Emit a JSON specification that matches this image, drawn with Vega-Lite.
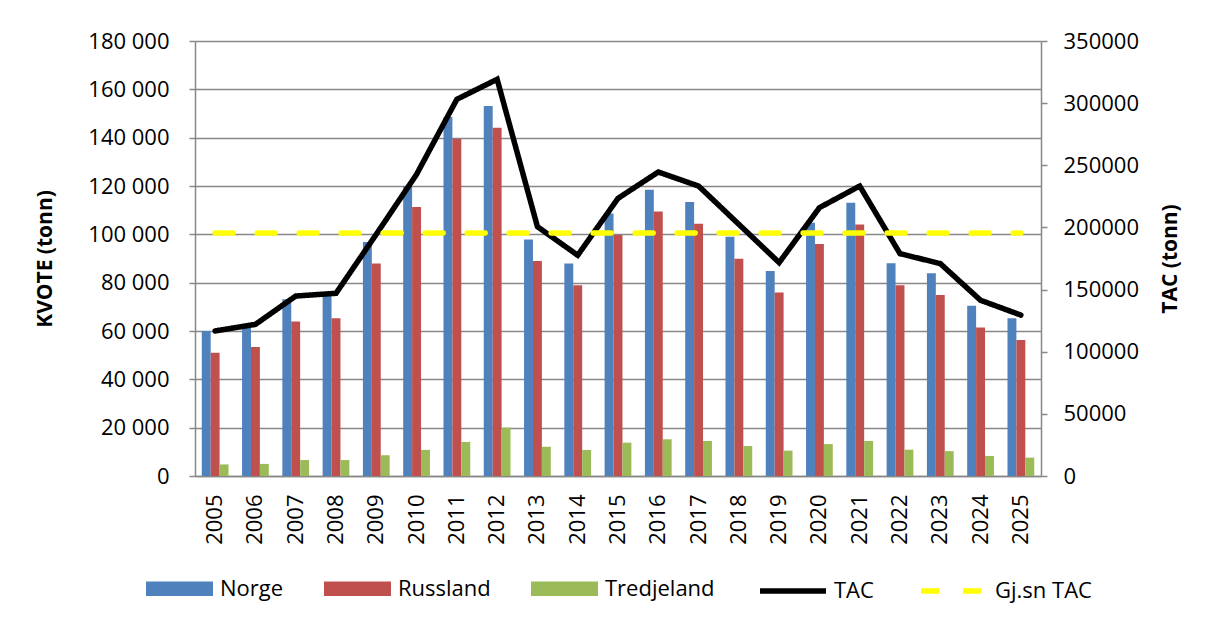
{
  "$schema": "https://vega.github.io/schema/vega-lite/v6.json",
  "width": 846,
  "height": 435,
  "autosize": {"type": "none"},
  "padding": {"left": 195, "top": 41, "right": 168, "bottom": 147},
  "background": "white",
  "datasets": {
    "kvote": [
      {"year": "2005", "land": "Norge", "tonn": 60000}, {"year": "2005", "land": "Russland", "tonn": 51000}, {"year": "2005", "land": "Tredjeland", "tonn": 4800},
      {"year": "2006", "land": "Norge", "tonn": 61400}, {"year": "2006", "land": "Russland", "tonn": 53400}, {"year": "2006", "land": "Tredjeland", "tonn": 5000},
      {"year": "2007", "land": "Norge", "tonn": 73100}, {"year": "2007", "land": "Russland", "tonn": 63900}, {"year": "2007", "land": "Tredjeland", "tonn": 6600},
      {"year": "2008", "land": "Norge", "tonn": 74500}, {"year": "2008", "land": "Russland", "tonn": 65300}, {"year": "2008", "land": "Tredjeland", "tonn": 6600},
      {"year": "2009", "land": "Norge", "tonn": 96800}, {"year": "2009", "land": "Russland", "tonn": 87900}, {"year": "2009", "land": "Tredjeland", "tonn": 8600},
      {"year": "2010", "land": "Norge", "tonn": 120000}, {"year": "2010", "land": "Russland", "tonn": 111300}, {"year": "2010", "land": "Tredjeland", "tonn": 10800},
      {"year": "2011", "land": "Norge", "tonn": 148600}, {"year": "2011", "land": "Russland", "tonn": 139600}, {"year": "2011", "land": "Tredjeland", "tonn": 14100},
      {"year": "2012", "land": "Norge", "tonn": 153100}, {"year": "2012", "land": "Russland", "tonn": 144100}, {"year": "2012", "land": "Tredjeland", "tonn": 20000},
      {"year": "2013", "land": "Norge", "tonn": 97900}, {"year": "2013", "land": "Russland", "tonn": 89000}, {"year": "2013", "land": "Tredjeland", "tonn": 12100},
      {"year": "2014", "land": "Norge", "tonn": 87900}, {"year": "2014", "land": "Russland", "tonn": 78900}, {"year": "2014", "land": "Tredjeland", "tonn": 10800},
      {"year": "2015", "land": "Norge", "tonn": 108600}, {"year": "2015", "land": "Russland", "tonn": 99700}, {"year": "2015", "land": "Tredjeland", "tonn": 13800},
      {"year": "2016", "land": "Norge", "tonn": 118400}, {"year": "2016", "land": "Russland", "tonn": 109400}, {"year": "2016", "land": "Tredjeland", "tonn": 15200},
      {"year": "2017", "land": "Norge", "tonn": 113400}, {"year": "2017", "land": "Russland", "tonn": 104400}, {"year": "2017", "land": "Tredjeland", "tonn": 14500},
      {"year": "2018", "land": "Norge", "tonn": 99000}, {"year": "2018", "land": "Russland", "tonn": 89900}, {"year": "2018", "land": "Tredjeland", "tonn": 12400},
      {"year": "2019", "land": "Norge", "tonn": 84800}, {"year": "2019", "land": "Russland", "tonn": 75900}, {"year": "2019", "land": "Tredjeland", "tonn": 10500},
      {"year": "2020", "land": "Norge", "tonn": 104800}, {"year": "2020", "land": "Russland", "tonn": 96000}, {"year": "2020", "land": "Tredjeland", "tonn": 13200},
      {"year": "2021", "land": "Norge", "tonn": 113100}, {"year": "2021", "land": "Russland", "tonn": 104100}, {"year": "2021", "land": "Tredjeland", "tonn": 14500},
      {"year": "2022", "land": "Norge", "tonn": 88000}, {"year": "2022", "land": "Russland", "tonn": 78900}, {"year": "2022", "land": "Tredjeland", "tonn": 10900},
      {"year": "2023", "land": "Norge", "tonn": 83900}, {"year": "2023", "land": "Russland", "tonn": 74900}, {"year": "2023", "land": "Tredjeland", "tonn": 10300},
      {"year": "2024", "land": "Norge", "tonn": 70400}, {"year": "2024", "land": "Russland", "tonn": 61400}, {"year": "2024", "land": "Tredjeland", "tonn": 8300},
      {"year": "2025", "land": "Norge", "tonn": 65300}, {"year": "2025", "land": "Russland", "tonn": 56300}, {"year": "2025", "land": "Tredjeland", "tonn": 7600}
    ],
    "tac": [
      {"year": "2005", "series": "TAC", "tonn": 116700},
      {"year": "2006", "series": "TAC", "tonn": 122000},
      {"year": "2007", "series": "TAC", "tonn": 144800},
      {"year": "2008", "series": "TAC", "tonn": 147000},
      {"year": "2009", "series": "TAC", "tonn": 194500},
      {"year": "2010", "series": "TAC", "tonn": 242700},
      {"year": "2011", "series": "TAC", "tonn": 303100},
      {"year": "2012", "series": "TAC", "tonn": 319200},
      {"year": "2013", "series": "TAC", "tonn": 200600},
      {"year": "2014", "series": "TAC", "tonn": 177600},
      {"year": "2015", "series": "TAC", "tonn": 223400},
      {"year": "2016", "series": "TAC", "tonn": 244600},
      {"year": "2017", "series": "TAC", "tonn": 233300},
      {"year": "2018", "series": "TAC", "tonn": 202500},
      {"year": "2019", "series": "TAC", "tonn": 171700},
      {"year": "2020", "series": "TAC", "tonn": 215900},
      {"year": "2021", "series": "TAC", "tonn": 233300},
      {"year": "2022", "series": "TAC", "tonn": 178900},
      {"year": "2023", "series": "TAC", "tonn": 170900},
      {"year": "2024", "series": "TAC", "tonn": 141400},
      {"year": "2025", "series": "TAC", "tonn": 129500},
      {"year": "2005", "series": "Gj.sn TAC", "tonn": 195600},
      {"year": "2006", "series": "Gj.sn TAC", "tonn": 195600},
      {"year": "2007", "series": "Gj.sn TAC", "tonn": 195600},
      {"year": "2008", "series": "Gj.sn TAC", "tonn": 195600},
      {"year": "2009", "series": "Gj.sn TAC", "tonn": 195600},
      {"year": "2010", "series": "Gj.sn TAC", "tonn": 195600},
      {"year": "2011", "series": "Gj.sn TAC", "tonn": 195600},
      {"year": "2012", "series": "Gj.sn TAC", "tonn": 195600},
      {"year": "2013", "series": "Gj.sn TAC", "tonn": 195600},
      {"year": "2014", "series": "Gj.sn TAC", "tonn": 195600},
      {"year": "2015", "series": "Gj.sn TAC", "tonn": 195600},
      {"year": "2016", "series": "Gj.sn TAC", "tonn": 195600},
      {"year": "2017", "series": "Gj.sn TAC", "tonn": 195600},
      {"year": "2018", "series": "Gj.sn TAC", "tonn": 195600},
      {"year": "2019", "series": "Gj.sn TAC", "tonn": 195600},
      {"year": "2020", "series": "Gj.sn TAC", "tonn": 195600},
      {"year": "2021", "series": "Gj.sn TAC", "tonn": 195600},
      {"year": "2022", "series": "Gj.sn TAC", "tonn": 195600},
      {"year": "2023", "series": "Gj.sn TAC", "tonn": 195600},
      {"year": "2024", "series": "Gj.sn TAC", "tonn": 195600},
      {"year": "2025", "series": "Gj.sn TAC", "tonn": 195600}
    ]
  },
  "layer": [
    {
      "data": {"name": "kvote"},
      "mark": {"type": "bar"},
      "encoding": {
        "x": {
          "field": "year", "type": "ordinal",
          "scale": {"paddingInner": 0.336, "paddingOuter": 0.168},
          "axis": {"title": null, "labelAngle": 270, "ticks": false, "labelPadding": 18, "domainColor": "#888888", "domainWidth": 1.5, "labelFontSize": 22}
        },
        "xOffset": {"field": "land", "type": "nominal", "sort": ["Norge", "Russland", "Tredjeland"], "scale": {"paddingInner": 0, "paddingOuter": 0}},
        "y": {
          "field": "tonn", "type": "quantitative",
          "scale": {"domain": [0, 180000], "nice": false},
          "axis": {
            "title": "KVOTE (tonn)", "orient": "left",
            "values": [0, 20000, 40000, 60000, 80000, 100000, 120000, 140000, 160000, 180000],
            "labelExpr": "replace(format(datum.value, ','), ',', ' ')",
            "grid": true, "gridColor": "#888888", "gridWidth": 1.5,
            "tickSize": 6, "tickColor": "#888888", "tickWidth": 1.5,
            "domainColor": "#888888", "domainWidth": 1.5,
            "labelPadding": 20, "labelFontSize": 22,
            "titlePadding": 32
          }
        },
        "fill": {
          "field": "land", "type": "nominal",
          "scale": {"domain": ["Norge", "Russland", "Tredjeland"], "range": ["#4F81BD", "#C0504D", "#9BBB59"]},
          "legend": {
            "title": null, "orient": "none", "direction": "horizontal",
            "legendX": -49, "legendY": 514,
            "symbolType": "M-1,-0.22H1V0.22H-1Z", "symbolSize": 4489, "symbolStrokeWidth": 0,
            "labelOffset": 7, "columnPadding": 40, "padding": 0
          }
        }
      }
    },
    {
      "data": {"name": "tac"},
      "mark": {"type": "line", "strokeWidth": 5.5, "strokeCap": "round", "strokeJoin": "miter"},
      "encoding": {
        "x": {"field": "year", "type": "ordinal"},
        "y": {
          "field": "tonn", "type": "quantitative",
          "scale": {"domain": [0, 350000], "nice": false},
          "axis": {
            "title": "TAC (tonn)", "orient": "right", "titleAngle": 270,
            "values": [0, 50000, 100000, 150000, 200000, 250000, 300000, 350000],
            "format": "d", "grid": false,
            "tickSize": 6, "tickColor": "#888888", "tickWidth": 1.5,
            "domainColor": "#888888", "domainWidth": 1.5,
            "labelPadding": 16, "labelFontSize": 22,
            "titlePadding": 42
          }
        },
        "stroke": {
          "field": "series", "type": "nominal",
          "scale": {"domain": ["TAC", "Gj.sn TAC"], "range": ["#000000", "#FFFF00"]},
          "legend": {
            "title": null, "orient": "none", "direction": "horizontal",
            "legendX": 562, "legendY": 514,
            "symbolType": "stroke", "symbolSize": 4356, "symbolStrokeWidth": 5.5,
            "labelOffset": 5, "columnPadding": 36, "padding": 0
          }
        },
        "strokeDash": {
          "field": "series", "type": "nominal",
          "scale": {"domain": ["TAC", "Gj.sn TAC"], "range": [[1, 0], [18, 24]]},
          "legend": {
            "title": null, "orient": "none", "direction": "horizontal",
            "legendX": 562, "legendY": 514,
            "symbolType": "stroke", "symbolSize": 4356, "symbolStrokeWidth": 5.5,
            "labelOffset": 5, "columnPadding": 36, "padding": 0
          }
        }
      }
    }
  ],
  "resolve": {"scale": {"y": "independent", "fill": "independent", "stroke": "independent", "strokeDash": "independent"}},
  "config": {
    "font": "Open Sans",
    "view": {"stroke": null},
    "axis": {"labelColor": "#000000", "titleColor": "#000000", "labelFont": "Open Sans", "titleFont": "Open Sans", "titleFontSize": 21, "titleFontWeight": "bold"},
    "legend": {"labelFont": "Open Sans", "labelFontSize": 22, "labelColor": "#000000", "labelLimit": 0}
  }
}
